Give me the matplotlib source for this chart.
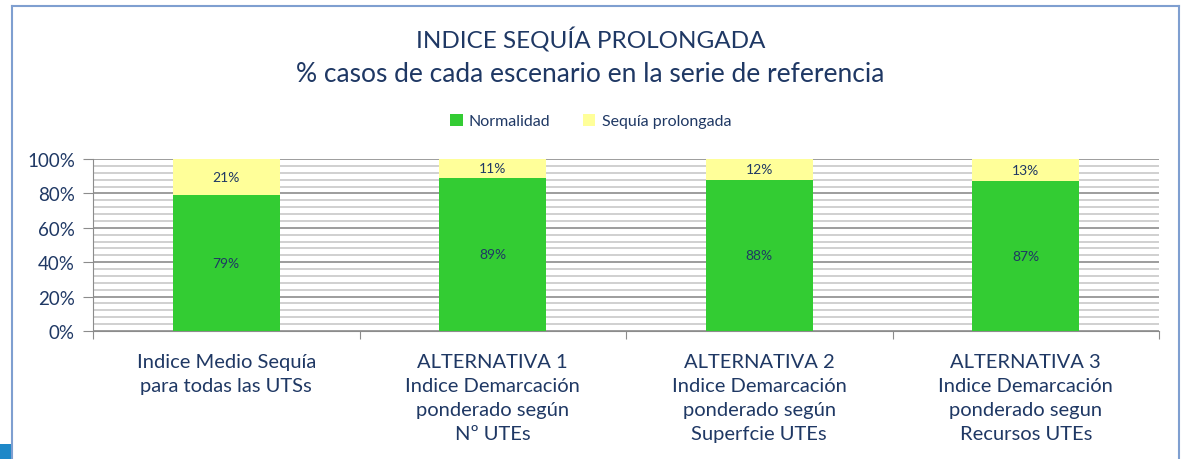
import numpy as np
import matplotlib
matplotlib.use("Agg")
import matplotlib.pyplot as plt
from matplotlib.lines import Line2D
from matplotlib.patches import Rectangle

categories = [
    "Indice Medio Sequía\npara todas las UTSs",
    "ALTERNATIVA 1\nIndice Demarcación\nponderado según\nNº UTEs",
    "ALTERNATIVA 2\nIndice Demarcación\nponderado según\nSuperfcie UTEs",
    "ALTERNATIVA 3\nIndice Demarcación\nponderado segun\nRecursos UTEs",
]
normalidad = [79, 89, 88, 87]
sequia = [21, 11, 12, 13]
yticks = [0, 20, 40, 60, 80, 100]

navy = "#1F3864"
green = "#33CC33"
yellow = "#FFFF99"

plt.rcParams['font.family'] = ['Lato', 'DejaVu Sans']

fig = plt.figure(figsize=(11.81, 4.60), dpi=100)
ax = fig.add_axes([93 / 1181, 1 - 332 / 460, (1159 - 93) / 1181, (332 - 160) / 460])

x = np.arange(len(categories))
b1 = ax.bar(x, normalidad, width=0.4, color=green, label="Normalidad", zorder=3)
b2 = ax.bar(x, sequia, width=0.4, bottom=normalidad, color=yellow, label="Sequía prolongada", zorder=3)

# data labels in the middle of each segment
for i in range(len(x)):
    ax.text(x[i], normalidad[i] / 2, f"{normalidad[i]}%", ha="center", va="center",
            fontsize=10, color=navy, zorder=4)
    ax.text(x[i], normalidad[i] + sequia[i] / 2, f"{sequia[i]}%", ha="center", va="center",
            fontsize=10, color=navy, zorder=4)

ax.set_xlim(-0.5, len(x) - 0.5)
ax.set_ylim(0, 100)
ax.set_yticks(yticks)
ax.set_yticklabels([f"{v}%" for v in yticks], fontsize=13.5, color=navy)
ax.set_yticks(np.arange(0, 101, 4), minor=True)
ax.grid(axis="y", which="minor", color="#C8C8C8", lw=1.2, zorder=0)
ax.grid(axis="y", which="major", color="#8C8C8C", lw=1.2, zorder=1)
ax.tick_params(axis="y", which="minor", length=0)
ax.tick_params(axis="y", which="major", length=7, color="#8C8C8C", pad=6)

# category ticks between groups
ax.set_xticks(np.arange(-0.5, len(x), 1.0))
ax.set_xticklabels([])
ax.tick_params(axis="x", length=6, color="#8C8C8C")
for i, c in enumerate(categories):
    ax.text(x[i], -13, c, ha="center", va="top", fontsize=14.5, color=navy,
            linespacing=1.5, transform=ax.transData)

for s in ["top", "right"]:
    ax.spines[s].set_visible(False)
ax.spines["left"].set_color("#8C8C8C")
ax.spines["bottom"].set_color("#8C8C8C")

fig.text(0.5, 1 - 40 / 460, "INDICE SEQUÍA PROLONGADA", ha="center", va="center",
         fontsize=17.5, color=navy)
fig.text(0.5, 1 - 74 / 460, "% casos de cada escenario en la serie de referencia",
         ha="center", va="center", fontsize=19, color=navy)

fig.legend(handles=[b1, b2], loc="center", bbox_to_anchor=(0.5, 1 - 122 / 460),
           ncol=2, frameon=False, fontsize=11.5, labelcolor=navy,
           handlelength=0.8, handleheight=0.8, columnspacing=2.0, handletextpad=0.4)

# slide frame
fc = "#7F9FD0"
fig.add_artist(Line2D([12 / 1181, 12 / 1181], [0, 1 - 7 / 460], color=fc, lw=1.5))
fig.add_artist(Line2D([12 / 1181, 1179 / 1181], [1 - 7 / 460, 1 - 7 / 460], color=fc, lw=1.5))
fig.add_artist(Line2D([1179 / 1181, 1179 / 1181], [0, 1 - 7 / 460], color=fc, lw=1.5))
fig.add_artist(Rectangle((0, 0), 11 / 1181, 15 / 460, transform=fig.transFigure,
                         color="#1E88C8", lw=0))

fig.savefig("out.png", dpi=100)
